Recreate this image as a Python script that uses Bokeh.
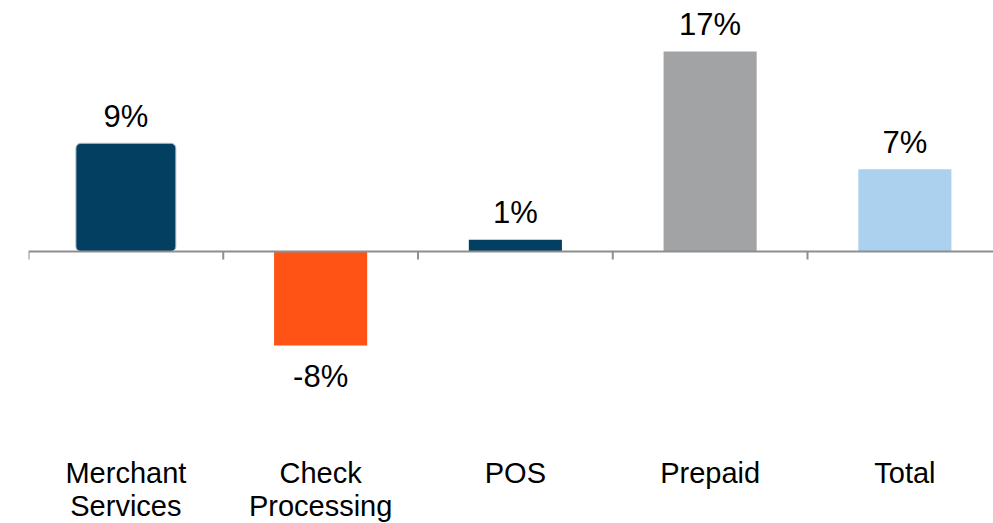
from bokeh.plotting import figure
from bokeh.models import Range1d, ColumnDataSource
from bokeh.core.properties import value
from bokeh.embed import file_html
from bokeh.resources import INLINE

# ---- data ----
categories_line1 = ["Merchant", "Check", "POS", "Prepaid", "Total"]
categories_line2 = ["Services", "Processing", "", "", ""]
growth = [9.2, -8.0, 1.0, 17.0, 7.0]
growth_labels = ["9%", "-8%", "1%", "17%", "7%"]
bar_colors = ["#023F60", "#FF5316", "#023F60", "#A2A3A5", "#ABD1EE"]

FONT = value("Liberation Sans")
W, H = 993, 523
LEFT = 28
PX_PER_UNIT = 11.76
BASE_PX = 251  # canvas y of the zero line
CAT_PX = 194.75

n = len(categories_line1)
centers = [i + 0.5 for i in range(n)]
bounds = [i for i in range(n + 1)]

x_end = (W - LEFT) / CAT_PX
y_end = BASE_PX / PX_PER_UNIT
y_start = -(H - BASE_PX) / PX_PER_UNIT

p = figure(width=W, height=H, output_backend="svg", toolbar_location=None,
           x_range=Range1d(0, x_end), y_range=Range1d(y_start, y_end),
           min_border_left=LEFT, min_border_right=0, min_border_top=0,
           min_border_bottom=0)
p.xaxis.visible = False
p.yaxis.visible = False
p.xgrid.visible = False
p.ygrid.visible = False
p.outline_line_color = None
p.background_fill_color = "white"
p.border_fill_color = "white"

# first bar (rounded with light outline)
p.vbar(x=centers[:1], top=growth[:1], bottom=0, width=0.513,
       fill_color=bar_colors[0], line_color="#A9BCCD", line_width=1,
       border_radius=5)
# remaining bars
p.vbar(x=centers[1:], top=growth[1:], bottom=0, width=0.478,
       fill_color=bar_colors[1:], line_color=None)

# baseline and tick marks
tick_len = 8 / PX_PER_UNIT
p.segment(x0=[0], y0=[0], x1=[x_end], y1=[0], line_color="#8E8E8E", line_width=2)
p.segment(x0=bounds, y0=[0] * len(bounds), x1=bounds, y1=[-tick_len] * len(bounds),
          line_color="#8E8E8E", line_width=2)

# value labels
offsets = [-27 if v >= 0 else 31 for v in growth]
src = ColumnDataSource(dict(x=centers, y=growth, t=growth_labels, off=offsets))
p.text(x="x", y="y", text="t", y_offset="off", source=src,
       text_align="center", text_baseline="alphabetic",
       text_font=FONT, text_font_size="31px", text_color="#000000")

# category labels
p.text(x=centers, y=[0] * n, text=categories_line1, y_offset=221,
       text_align="center", text_baseline="alphabetic",
       text_font=FONT, text_font_size="29px", text_color="#000000")
p.text(x=centers, y=[0] * n, text=categories_line2, y_offset=254,
       text_align="center", text_baseline="alphabetic",
       text_font=FONT, text_font_size="29px", text_color="#000000")

open("out.html", "w").write(file_html(p, INLINE))
